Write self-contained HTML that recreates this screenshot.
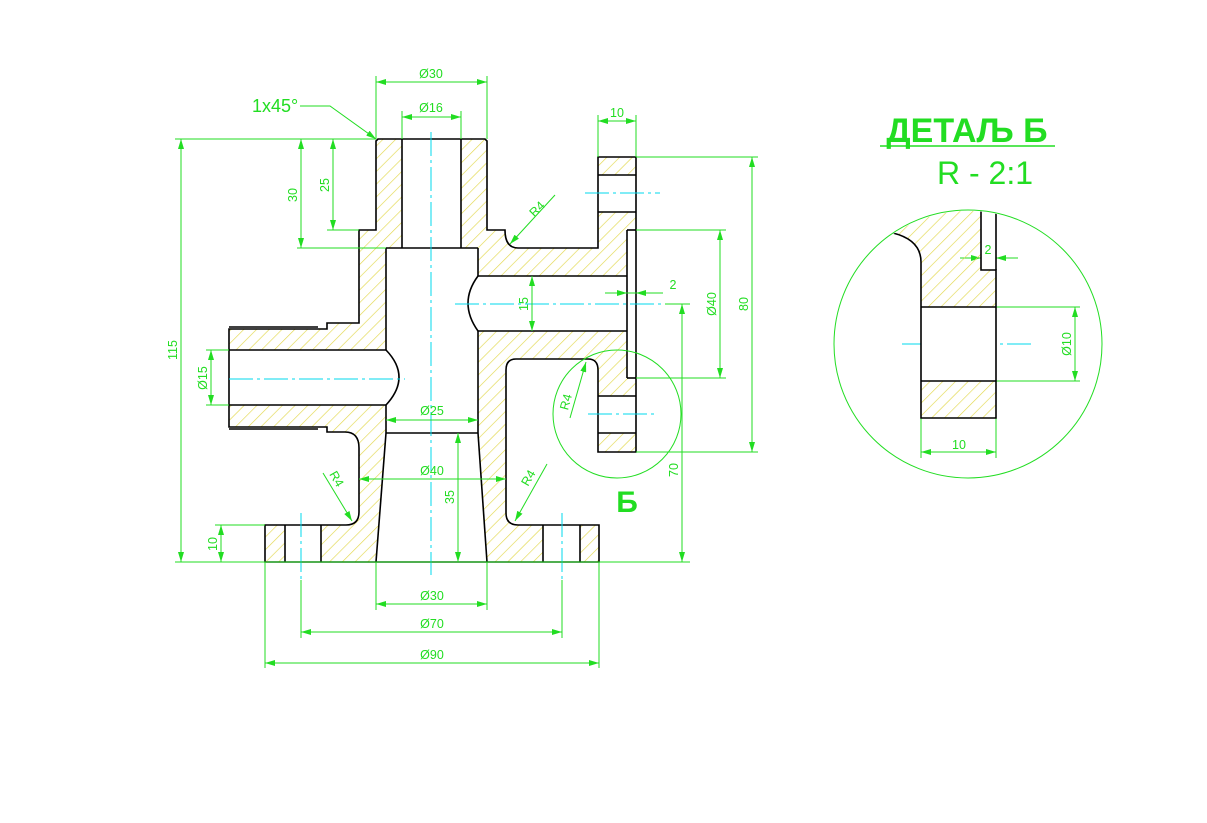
<!DOCTYPE html>
<html><head><meta charset="utf-8"><style>
html,body{margin:0;padding:0;background:#fff;}
svg{display:block;}
text{font-family:"Liberation Sans",sans-serif;fill:#22dd22;}
</style></head><body>
<svg width="1207" height="823" viewBox="0 0 1207 823" xmlns="http://www.w3.org/2000/svg">
<defs>
<pattern id="h" patternUnits="userSpaceOnUse" width="9" height="9" patternTransform="rotate(45)">
<line x1="0" y1="0" x2="0" y2="9" stroke="#e2d84e" stroke-width="1.3"/>
</pattern>
<marker id="a" viewBox="0 0 10 6" refX="10" refY="3" markerWidth="10" markerHeight="6" orient="auto-start-reverse" markerUnits="userSpaceOnUse">
<path d="M0,0 L10,3 L0,6 z" fill="#22dd22"/>
</marker>
</defs>
<rect width="1207" height="823" fill="#fff"/>

<path d="M376,141 L378,139 L485,139 L487,141 L487,230 L505,230 Q505,248 518,248 L598,248 L598,157 L636,157 L636,452 L598,452 L598,370 Q598,359 588,359 L516,359 Q506,359 506,370 L506,513 Q506,525 518,525 L599,525 L599,562 L265,562 L265,525 L346,525 Q359,525 359,512 L359,448 Q359,432 345,432 L327,432 L327,427 L229,427 L229,329 L327,329 L327,323 L359,323 L359,230 L376,230 Z" fill="url(#h)" stroke="none"/>
<g fill="#fff" stroke="none">
<rect x="402" y="139" width="59" height="109"/>
<rect x="386" y="248" width="92" height="185"/>
<rect x="478" y="276" width="149" height="55"/>
<rect x="229" y="350" width="170" height="55"/>
<polygon points="386,433 478,433 487,562 376,562"/>
<rect x="285" y="525" width="36" height="37"/>
<rect x="543" y="525" width="37" height="37"/>
<rect x="598" y="175" width="38" height="37"/>
<rect x="598" y="396" width="38" height="37"/>
<rect x="627" y="230" width="9" height="148"/>
</g>
<g stroke="#000" stroke-width="1.6" fill="none">
<path d="M376,141 L378,139 L485,139 L487,141 L487,230 L505,230 Q505,248 518,248 L598,248 L598,157 L636,157 L636,452 L598,452 L598,370 Q598,359 588,359 L516,359 Q506,359 506,370 L506,513 Q506,525 518,525 L599,525 L599,562 L265,562 L265,525 L346,525 Q359,525 359,512 L359,448 Q359,432 345,432 L327,432 L327,427 L229,427 L229,329 L327,329 L327,323 L359,323 L359,230 L376,230 Z"/>
<line x1="402" y1="139" x2="402" y2="248"/><line x1="461" y1="139" x2="461" y2="248"/>
<line x1="386" y1="248" x2="478" y2="248"/>
<line x1="386" y1="248" x2="386" y2="350"/><line x1="386" y1="405" x2="386" y2="433"/>
<line x1="478" y1="248" x2="478" y2="276"/><line x1="478" y1="331" x2="478" y2="433"/>
<line x1="478" y1="276" x2="627" y2="276"/><line x1="478" y1="331" x2="627" y2="331"/>
<path d="M478,276 Q458,303 478,331"/>
<line x1="229" y1="350" x2="386" y2="350"/><line x1="229" y1="405" x2="386" y2="405"/>
<path d="M386,350 Q412,377 386,405"/>
<line x1="386" y1="433" x2="478" y2="433"/>
<line x1="386" y1="433" x2="376" y2="562"/><line x1="478" y1="433" x2="487" y2="562"/>
<line x1="285" y1="525" x2="285" y2="562"/><line x1="321" y1="525" x2="321" y2="562"/>
<line x1="543" y1="525" x2="543" y2="562"/><line x1="580" y1="525" x2="580" y2="562"/>
<line x1="598" y1="175" x2="636" y2="175"/><line x1="598" y1="212" x2="636" y2="212"/>
<line x1="598" y1="396" x2="636" y2="396"/><line x1="598" y1="433" x2="636" y2="433"/>
<line x1="627" y1="230" x2="636" y2="230"/><line x1="627" y1="230" x2="627" y2="378"/><line x1="627" y1="378" x2="636" y2="378"/>
<line x1="229" y1="327" x2="318" y2="327"/><line x1="229" y1="429" x2="318" y2="429"/>
</g>
<g stroke="#00d8ee" stroke-width="1" stroke-dasharray="24,4,3,4" fill="none">
<line x1="431" y1="132" x2="431" y2="575"/>
<line x1="229" y1="379" x2="405" y2="379"/>
<line x1="455" y1="304" x2="690" y2="304"/>
<line x1="585" y1="193" x2="660" y2="193"/>
<line x1="588" y1="414" x2="655" y2="414"/>
<line x1="301" y1="513" x2="301" y2="580"/>
<line x1="562" y1="513" x2="562" y2="580"/>
<line x1="902" y1="344" x2="1034" y2="344"/>
</g>
<g stroke="#22dd22" stroke-width="1" fill="none">
<line x1="376" y1="76" x2="376" y2="139"/><line x1="487" y1="76" x2="487" y2="139"/>
<line x1="376" y1="82" x2="487" y2="82" marker-start="url(#a)" marker-end="url(#a)"/>
<line x1="402" y1="111" x2="402" y2="139"/><line x1="461" y1="111" x2="461" y2="139"/>
<line x1="402" y1="117" x2="461" y2="117" marker-start="url(#a)" marker-end="url(#a)"/>
<polyline points="300,106 330,106 376,139" marker-end="url(#a)"/>
<line x1="175" y1="139" x2="376" y2="139"/>
<line x1="181" y1="139" x2="181" y2="562" marker-start="url(#a)" marker-end="url(#a)"/>
<line x1="297" y1="248" x2="386" y2="248"/>
<line x1="301" y1="139" x2="301" y2="248" marker-start="url(#a)" marker-end="url(#a)"/>
<line x1="327" y1="230" x2="359" y2="230"/>
<line x1="333" y1="139" x2="333" y2="230" marker-start="url(#a)" marker-end="url(#a)"/>
<line x1="598" y1="115" x2="598" y2="157"/><line x1="636" y1="115" x2="636" y2="157"/>
<line x1="598" y1="121" x2="636" y2="121" marker-start="url(#a)" marker-end="url(#a)"/>
<line x1="636" y1="157" x2="758" y2="157"/><line x1="636" y1="452" x2="758" y2="452"/>
<line x1="752" y1="157" x2="752" y2="452" marker-start="url(#a)" marker-end="url(#a)"/>
<line x1="636" y1="230" x2="726" y2="230"/><line x1="636" y1="378" x2="726" y2="378"/>
<line x1="720" y1="230" x2="720" y2="378" marker-start="url(#a)" marker-end="url(#a)"/>
<line x1="605" y1="293" x2="627" y2="293" marker-end="url(#a)"/>
<line x1="663" y1="293" x2="636" y2="293" marker-end="url(#a)"/>
<line x1="627" y1="293" x2="636" y2="293"/>
<line x1="532" y1="276" x2="532" y2="331" marker-start="url(#a)" marker-end="url(#a)"/>
<line x1="665" y1="304" x2="690" y2="304"/>
<line x1="682" y1="304" x2="682" y2="562" marker-start="url(#a)" marker-end="url(#a)"/>
<line x1="206" y1="350" x2="229" y2="350"/><line x1="206" y1="405" x2="229" y2="405"/>
<line x1="211" y1="350" x2="211" y2="405" marker-start="url(#a)" marker-end="url(#a)"/>
<line x1="386" y1="420" x2="478" y2="420" marker-start="url(#a)" marker-end="url(#a)"/>
<line x1="359" y1="479" x2="506" y2="479" marker-start="url(#a)" marker-end="url(#a)"/>
<line x1="458" y1="433" x2="458" y2="562" marker-start="url(#a)" marker-end="url(#a)"/>
<line x1="215" y1="525" x2="265" y2="525"/>
<line x1="221" y1="525" x2="221" y2="562" marker-start="url(#a)" marker-end="url(#a)"/>
<line x1="175" y1="562" x2="690" y2="562"/>
<line x1="376" y1="562" x2="376" y2="610"/><line x1="487" y1="562" x2="487" y2="610"/>
<line x1="376" y1="604" x2="487" y2="604" marker-start="url(#a)" marker-end="url(#a)"/>
<line x1="301" y1="580" x2="301" y2="638"/><line x1="562" y1="580" x2="562" y2="638"/>
<line x1="301" y1="632" x2="562" y2="632" marker-start="url(#a)" marker-end="url(#a)"/>
<line x1="265" y1="562" x2="265" y2="668"/><line x1="599" y1="562" x2="599" y2="668"/>
<line x1="265" y1="663" x2="599" y2="663" marker-start="url(#a)" marker-end="url(#a)"/>
<line x1="555" y1="195" x2="510" y2="244" marker-end="url(#a)"/>
<line x1="323" y1="473" x2="352" y2="521" marker-end="url(#a)"/>
<line x1="547" y1="464" x2="515" y2="521" marker-end="url(#a)"/>
<line x1="570" y1="418" x2="586" y2="362" marker-end="url(#a)"/>
<circle cx="617" cy="414" r="64"/>
<line x1="880" y1="146" x2="1055" y2="146" stroke-width="1.5"/>
<circle cx="968" cy="344" r="134"/>
<line x1="996" y1="307" x2="1080" y2="307"/><line x1="996" y1="381" x2="1080" y2="381"/>
<line x1="1075" y1="307" x2="1075" y2="381" marker-start="url(#a)" marker-end="url(#a)"/>
<line x1="921" y1="418" x2="921" y2="458"/><line x1="996" y1="418" x2="996" y2="458"/>
<line x1="921" y1="452" x2="996" y2="452" marker-start="url(#a)" marker-end="url(#a)"/>
<line x1="960" y1="258" x2="981" y2="258" marker-end="url(#a)"/>
<line x1="1018" y1="258" x2="996" y2="258" marker-end="url(#a)"/>
<line x1="981" y1="244" x2="981" y2="262"/><line x1="996" y1="244" x2="996" y2="262"/>
</g>
<clipPath id="dc"><circle cx="968" cy="344" r="133"/></clipPath>
<g clip-path="url(#dc)">
<path d="M893,233 Q921,240 921,262 L921,418 L996,418 L996,270 L981,270 L981,205 L893,205 Z" fill="url(#h)"/>
<rect x="921" y="307" width="75" height="74" fill="#fff"/>
<g stroke="#000" stroke-width="1.6" fill="none">
<path d="M893,233 Q921,240 921,262 L921,418 L996,418 L996,270 L981,270 L981,205"/>
<line x1="996" y1="205" x2="996" y2="270"/>
<line x1="921" y1="307" x2="996" y2="307"/><line x1="921" y1="381" x2="996" y2="381"/>
</g>
</g>
<g font-size="12.5" text-anchor="middle">
<text x="431" y="78">Ø30</text>
<text x="431" y="112">Ø16</text>
<text x="617" y="117">10</text>
<text x="297" y="195" transform="rotate(-90 297 195)">30</text>
<text x="329" y="185" transform="rotate(-90 329 185)">25</text>
<text x="177" y="350" transform="rotate(-90 177 350)">115</text>
<text x="207" y="378" transform="rotate(-90 207 378)">Ø15</text>
<text x="217" y="544" transform="rotate(-90 217 544)">10</text>
<text x="528" y="304" transform="rotate(-90 528 304)">15</text>
<text x="716" y="304" transform="rotate(-90 716 304)">Ø40</text>
<text x="748" y="304" transform="rotate(-90 748 304)">80</text>
<text x="678" y="470" transform="rotate(-90 678 470)">70</text>
<text x="454" y="497" transform="rotate(-90 454 497)">35</text>
<text x="673" y="289">2</text>
<text x="432" y="415">Ø25</text>
<text x="432" y="475">Ø40</text>
<text x="432" y="600">Ø30</text>
<text x="432" y="628">Ø70</text>
<text x="432" y="659">Ø90</text>
<text x="540" y="212" transform="rotate(-45 540 212)">R4</text>
<text x="333" y="481" transform="rotate(60 333 481)">R4</text>
<text x="532" y="480" transform="rotate(-60 532 480)">R4</text>
<text x="570" y="403" transform="rotate(-75 570 403)">R4</text>
<text x="1071" y="344" transform="rotate(-90 1071 344)">Ø10</text>
<text x="959" y="449">10</text>
<text x="988" y="254">2</text>
</g>
<text x="252" y="112" font-size="18">1x45°</text>
<text x="627" y="512" font-size="30" font-weight="bold" text-anchor="middle">Б</text>
<text x="967" y="142" font-size="34" font-weight="bold" text-anchor="middle">ДЕТАЉ Б</text>
<text x="985" y="184" font-size="32" text-anchor="middle">R - 2:1</text>
</svg>
</body></html>
